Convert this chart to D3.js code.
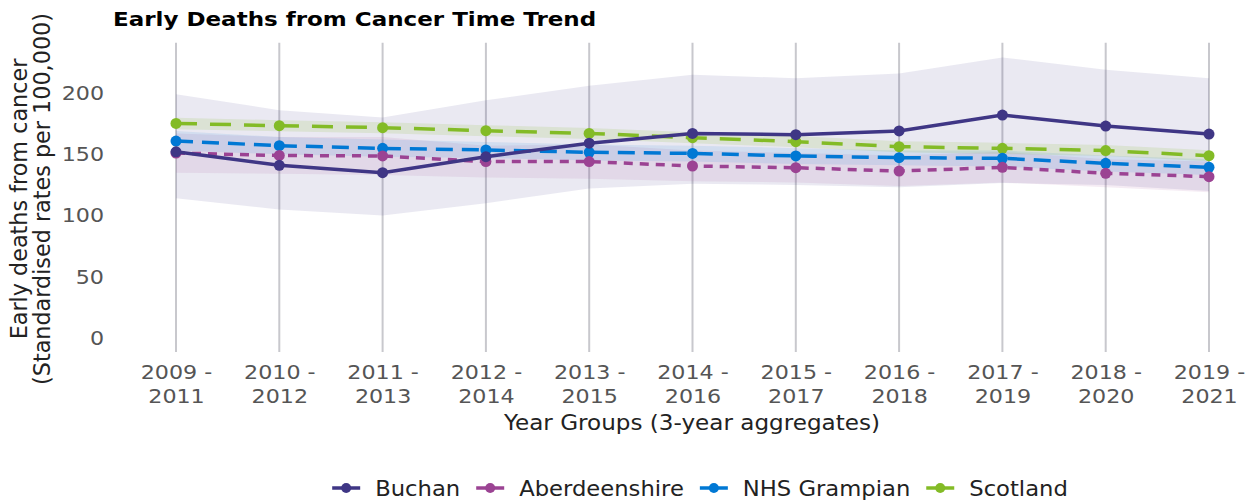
<!DOCTYPE html>
<html>
<head>
<meta charset="utf-8">
<script src="https://cdn.jsdelivr.net/npm/d3@7"></script>
<style>
  body { margin: 0; background: #fff; }
  svg { display: block; font-family: 'DejaVu Sans', sans-serif; }
</style>
</head>
<body>
<div id="chart"></div>
<script>
const yearGroups = ['2009 - 2011', '2010 - 2012', '2011 - 2013', '2012 - 2014', '2013 - 2015',
  '2014 - 2016', '2015 - 2017', '2016 - 2018', '2017 - 2019', '2018 - 2020', '2019 - 2021'];

const buchan = [152, 141, 135, 148, 159, 167, 166, 169, 182, 173, 166.5];
const buchanLower = [114, 105, 100, 110, 122, 126, 125, 123, 126.5, 125, 120];
const buchanUpper = [199, 186, 180, 194, 206, 215, 212, 216, 229, 219, 212];

const aberdeenshire = [151, 149, 148.6, 144, 144, 140.4, 139, 136.3, 139.3, 134.4, 131.7];
const aberdeenshireLower = [135, 134, 133, 131, 130, 128, 127, 124, 127, 123, 119];
const aberdeenshireUpper = [167, 164, 164, 157, 158, 153, 151, 149, 152, 146, 144];

const grampian = [160.8, 157, 154.8, 153.5, 151.6, 150.7, 148.6, 147.2, 146.7, 142.6, 139.3];
const grampianLower = [153, 150, 148, 147, 145, 144, 142, 141, 140, 136, 133];
const grampianUpper = [169, 164, 162, 160, 158, 157, 155, 153, 153, 149, 146];

const scotland = [175.2, 173.3, 171.7, 169.2, 167, 163.5, 160.3, 156.2, 154.8, 153, 148.8];
const scotlandLower = [170.5, 168.8, 167.2, 164.7, 162.5, 159, 155.8, 151.7, 150.3, 148.5, 144.3];
const scotlandUpper = [179.8, 177.8, 176.2, 173.7, 171.5, 168, 164.8, 160.7, 159.3, 157.5, 153.3];

const yTicks = [0, 50, 100, 150, 200];

const series = [
  { name: 'Buchan', values: buchan, lower: buchanLower, upper: buchanUpper, color: '#3f3685', dash: null, bandOpacity: 0.11 },
  { name: 'Aberdeenshire', values: aberdeenshire, lower: aberdeenshireLower, upper: aberdeenshireUpper, color: '#9b4393', dash: '9,7', bandOpacity: 0.1 },
  { name: 'NHS Grampian', values: grampian, lower: grampianLower, upper: grampianUpper, color: '#0078d4', dash: '17,9', bandOpacity: 0.1 },
  { name: 'Scotland', values: scotland, lower: scotlandLower, upper: scotlandUpper, color: '#83bb26', dash: '21,13', bandOpacity: 0.14 }
];

const width = 1256;
const height = 502;

const svg = d3.select('#chart').append('svg')
  .attr('width', width)
  .attr('height', height);

const x = d3.scalePoint().domain(yearGroups).range([176, 1209]);
const y = d3.scaleLinear().domain([0, 200]).range([338, 93]);

// vertical grid lines, one per year group
const grid = svg.append('g').attr('class', 'grid');
grid.selectAll('line').data(yearGroups).enter().append('line')
  .attr('x1', (d) => x(d)).attr('x2', (d) => x(d))
  .attr('y1', y(241)).attr('y2', y(-11.5))
  .attr('stroke', '#c8c8cd').attr('stroke-width', 2);

// confidence bands
const area = d3.area()
  .x((d) => x(d.g))
  .y0((d) => y(d.lo))
  .y1((d) => y(d.hi));

series.forEach((s) => {
  const pts = yearGroups.map((g, i) => ({ g: g, lo: s.lower[i], hi: s.upper[i] }));
  svg.append('path')
    .datum(pts)
    .attr('d', area)
    .attr('fill', s.color)
    .attr('fill-opacity', s.bandOpacity);
});

// lines and points, Buchan drawn last so it sits on top
const line = d3.line().x((d) => x(d.g)).y((d) => y(d.v));
series.slice().reverse().forEach((s) => {
  const pts = yearGroups.map((g, i) => ({ g: g, v: s.values[i] }));
  svg.append('path')
    .datum(pts)
    .attr('d', line)
    .attr('fill', 'none')
    .attr('stroke', s.color)
    .attr('stroke-width', 3.5)
    .attr('stroke-dasharray', s.dash);
  svg.append('g').selectAll('circle').data(pts).enter().append('circle')
    .attr('cx', (d) => x(d.g))
    .attr('cy', (d) => y(d.v))
    .attr('r', 5.5)
    .attr('fill', s.color);
});

// the reference text is a little wider than it is tall
const stretch = 1.11;

// y axis labels
const yAxis = d3.axisLeft(y).tickValues(yTicks).tickSize(0).tickPadding(0);
const yg = svg.append('g').attr('transform', 'translate(104,0)').call(yAxis);
yg.select('.domain').remove();
yg.selectAll('text')
  .attr('font-size', 20)
  .attr('font-family', 'DejaVu Sans, sans-serif')
  .attr('fill', '#555')
  .attr('transform', `scale(${stretch},1)`);

// x axis labels on two lines
const xAxis = d3.axisBottom(x).tickSize(0).tickFormat('');
const xg = svg.append('g').attr('transform', 'translate(0,352)').call(xAxis);
xg.select('.domain').remove();
xg.selectAll('.tick text').remove();
xg.selectAll('.tick').each(function (d) {
  const parts = d.split(' - ');
  const t = d3.select(this).append('text')
    .attr('text-anchor', 'middle')
    .attr('font-size', 20)
    .attr('font-family', 'DejaVu Sans, sans-serif')
    .attr('fill', '#555')
    .attr('transform', `scale(${stretch},1)`);
  t.append('tspan').attr('x', 0).attr('y', 27).text(parts[0] + ' -');
  t.append('tspan').attr('x', 0).attr('y', 51).text(parts[1]);
});

// titles
svg.append('text')
  .attr('transform', 'translate(113,26) scale(1.15,1)')
  .attr('font-size', 20).attr('font-weight', 'bold')
  .attr('fill', '#000')
  .text('Early Deaths from Cancer Time Trend');

svg.append('text')
  .attr('transform', `translate(692,430) scale(${stretch},1)`)
  .attr('text-anchor', 'middle')
  .attr('font-size', 20.8)
  .attr('fill', '#222')
  .text('Year Groups (3-year aggregates)');

const yTitle = svg.append('text')
  .attr('transform', 'translate(0,199) rotate(-90)')
  .attr('text-anchor', 'middle')
  .attr('font-size', 22.3)
  .attr('fill', '#222');
yTitle.append('tspan').attr('x', 0).attr('y', 27).text('Early deaths from cancer');
yTitle.append('tspan').attr('x', 0).attr('y', 50).text('(Standardised rates per 100,000)');

// legend
const legend = svg.append('g');
let lx = 0;
series.forEach((s) => {
  const item = legend.append('g').attr('transform', `translate(${lx},0)`);
  item.append('line').attr('x1', 0).attr('x2', 28).attr('y1', 0).attr('y2', 0)
    .attr('stroke', s.color).attr('stroke-width', 3.5);
  item.append('circle').attr('cx', 14).attr('cy', 0).attr('r', 5).attr('fill', s.color);
  const t = item.append('text')
    .attr('transform', `translate(43,7.5) scale(1.08,1)`)
    .attr('font-size', 21).attr('fill', '#222').text(s.name);
  lx += 43 + t.node().getComputedTextLength() * 1.08 + 16;
});
const legendWidth = lx - 16;
legend.attr('transform', `translate(${700 - legendWidth / 2},488)`);
</script>
</body>
</html>
